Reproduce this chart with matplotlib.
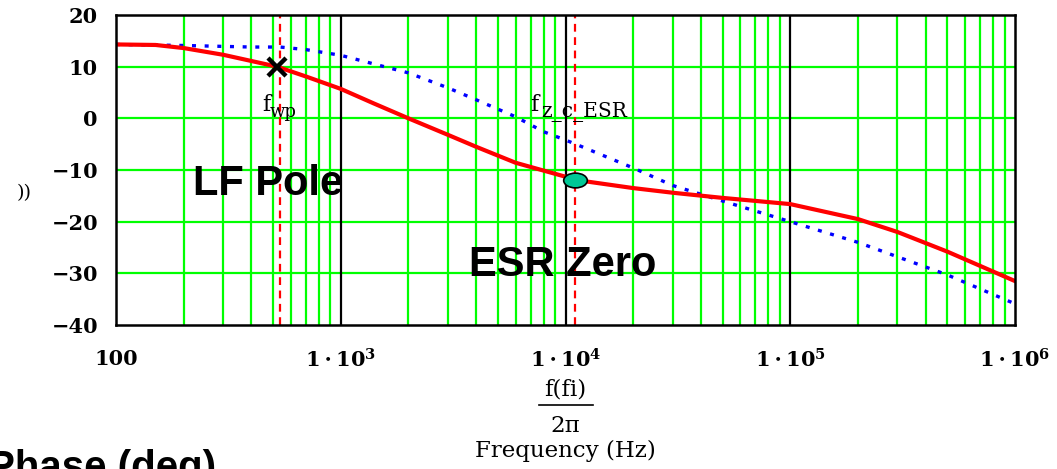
import numpy as np
import matplotlib
matplotlib.use("Agg")
import matplotlib.pyplot as plt
from matplotlib.path import Path
from matplotlib.transforms import Affine2D
from matplotlib.lines import Line2D

# ---------------- data ----------------
freq_red = [100, 150, 200, 300, 400, 520, 700, 1000, 1400, 2000, 3000, 4000, 6000,
            10000, 11000, 20000, 30000, 50000, 100000, 200000, 300000, 500000, 1000000]
gain_red = [14.3, 14.2, 13.6, 12.3, 11.1, 10.0, 8.1, 5.7, 2.9, 0.0, -3.2, -5.5, -8.6,
            -11.3, -11.9, -13.5, -14.4, -15.4, -16.6, -19.5, -22.0, -25.8, -31.5]

freq_blue = [100, 200, 400, 537, 700, 1000, 1500, 2000, 3000, 4000, 6000, 8000,
             10000, 12000, 20000, 30000, 50000, 100000, 200000, 300000, 500000, 1000000]
gain_blue = [14.3, 14.1, 13.8, 13.8, 13.3, 12.2, 10.2, 8.8, 5.9, 3.6, 0.3, -2.6,
             -4.2, -5.6, -9.6, -13.0, -16.0, -20.0, -24.0, -26.8, -30.3, -35.9]

f_wp = 537          # LF pole marker line
f_esr = 11000       # ESR zero marker line
pole_pt = (520, 10.0)
zero_pt = (11000, -11.9)

y_ticks = [20, 10, 0, -10, -20, -30, -40]
y_labels = ["20", "10", "0", "\u221210", "\u221220", "\u221230", "\u221240"]
x_ticks = [100, 1e3, 1e4, 1e5, 1e6]
x_labels = ["100", r"$\mathbf{1\cdot10^{3}}$", r"$\mathbf{1\cdot10^{4}}$",
            r"$\mathbf{1\cdot10^{5}}$", r"$\mathbf{1\cdot10^{6}}$"]

# ---------------- figure ----------------
plt.rcParams['mathtext.fontset'] = 'dejavuserif'
W, H = 1057, 469
fig = plt.figure(figsize=(W / 100, H / 100), dpi=100)
ax = fig.add_axes([116 / W, 1 - 325 / H, (1015 - 116) / W, (325 - 15) / H])
ax.set_xscale('log')
ax.set_xlim(100, 1e6)
ax.set_ylim(-40, 20)

GREEN = '#00ff00'
# minor vertical grid lines (green) and decade lines (black)
minor = [m * 10 ** d for d in range(2, 6) for m in range(2, 10)]
for xv in minor:
    ax.axvline(xv, color=GREEN, lw=1.6, zorder=1)
for xv in [1e3, 1e4, 1e5]:
    ax.axvline(xv, color='black', lw=1.6, zorder=1.2)
for yv in [10, 0, -10, -20, -30]:
    ax.axhline(yv, color=GREEN, lw=1.6, zorder=1.1)

# marker lines
for xv in [f_wp, f_esr]:
    ax.axvline(xv, color='#ff0000', lw=1.6, dashes=(3.5, 2.5), zorder=2)

# curves
ax.plot(freq_blue, gain_blue, color='#0000ff', lw=2.4, dashes=(1.2, 2.6), zorder=3)
ax.plot(freq_red, gain_red, color='#ff0000', lw=3.0, zorder=4)

# markers
ax.plot(*pole_pt, marker='x', color='black', ms=13, mew=3.2, zorder=6)
ell = Path.unit_circle().transformed(Affine2D().scale(1.6, 1.0))
ax.plot(*zero_pt, marker=ell, ms=17, color='#00c896', mec='black', mew=1.2, zorder=6)

# ticks
ax.set_yticks(y_ticks)
ax.set_yticklabels(y_labels)
ax.set_xticks(x_ticks)
ax.set_xticklabels(x_labels)
ax.xaxis.set_minor_locator(matplotlib.ticker.NullLocator())
ax.tick_params(length=0)
ax.tick_params(axis='y', pad=13)
ax.tick_params(axis='x', pad=17)
for lab in ax.get_xticklabels() + ax.get_yticklabels():
    lab.set_fontfamily('DejaVu Serif')
    lab.set_fontweight('bold')
    lab.set_fontsize(15)
for s in ax.spines.values():
    s.set_linewidth(1.8)
    s.set_color('black')
    s.set_zorder(7)

# annotations: f with subscript labels
ax.text(446, 2.6, 'f', family='DejaVu Serif', fontsize=16, ha='left',
        va='center', zorder=8)
ax.text(484, 1.3, 'wp', family='DejaVu Serif', fontsize=13, ha='left',
        va='center', zorder=8)
ax.text(6950, 2.6, 'f', family='DejaVu Serif', fontsize=16, ha='left',
        va='center', zorder=8)
ax.text(7785, 1.3, 'z_c_ESR', family='DejaVu Serif', fontsize=14.5, ha='left',
        va='center', zorder=8)

ax.text(0.086, 0.455, 'LF Pole', transform=ax.transAxes, fontsize=30,
        fontweight='bold', family='Liberation Sans', ha='left', va='center', zorder=8)
ax.text(0.393, 0.195, 'ESR Zero', transform=ax.transAxes, fontsize=30,
        fontweight='bold', family='Liberation Sans', ha='left', va='center', zorder=8)

# x label: f(fi) / 2pi  Frequency (Hz)
cx = 565 / W
fig.text(cx, 1 - 389 / H, 'f(fi)', family='DejaVu Serif', fontsize=16.5,
         ha='center', va='center')
fig.add_artist(Line2D([539 / W, 593 / W], [1 - 405 / H, 1 - 405 / H],
                      color='black', lw=1.2))
fig.text(cx, 1 - 426 / H, '2\u03c0', family='DejaVu Serif', fontsize=16.5,
         ha='center', va='center')
fig.text(cx, 1 - 451 / H, 'Frequency (Hz)', family='DejaVu Serif', fontsize=16.5,
         ha='center', va='center')

# cut-off fragments (cut off in the reference too)
fig.text(32 / W, 1 - 193 / H, '))', family='DejaVu Serif', fontsize=14,
         ha='right', va='center')
fig.text(-12 / W, 1 - 449 / H, 'Phase (deg)', family='Liberation Sans',
         fontweight='bold', fontsize=29, ha='left', va='top')

fig.savefig('out.png', dpi=100)
